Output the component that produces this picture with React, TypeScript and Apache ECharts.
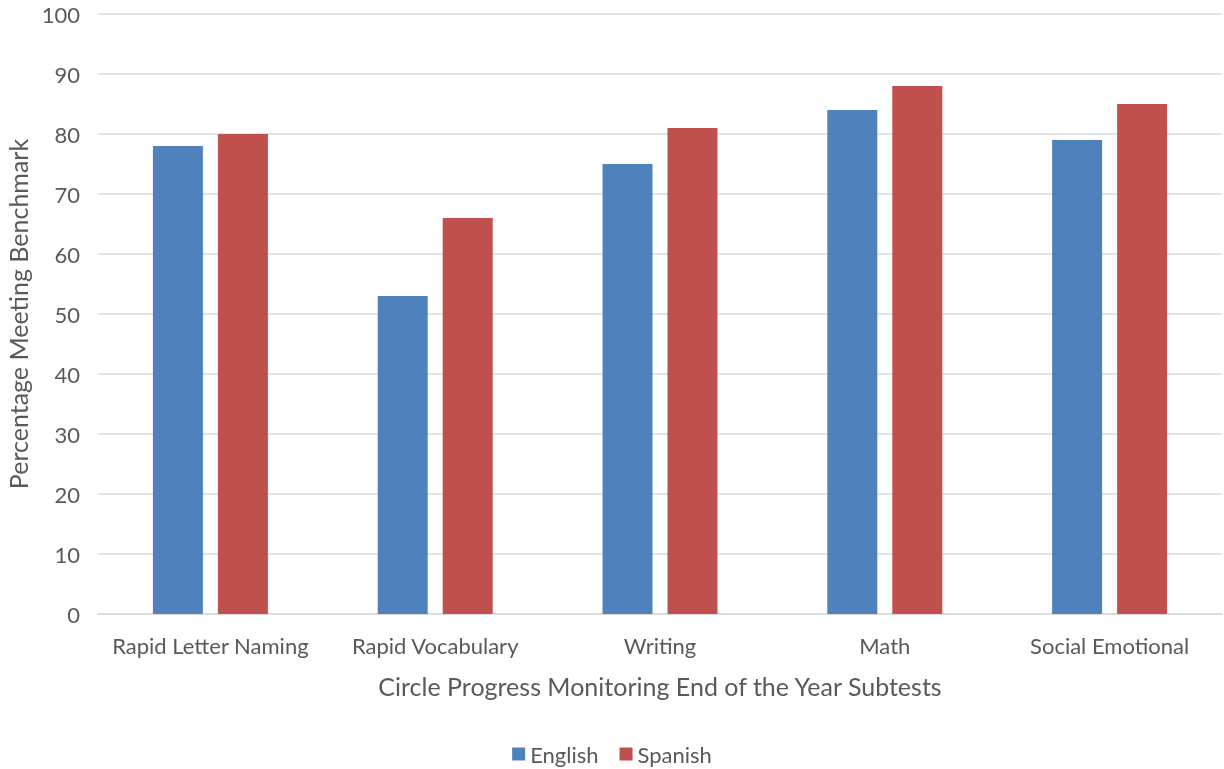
import React, { useEffect, useRef } from "react";
import * as echarts from "echarts";

const categories = ["Rapid Letter Naming", "Rapid Vocabulary", "Writing", "Math", "Social Emotional"];
const englishValues = [78, 53, 75, 84, 79];
const spanishValues = [80, 66, 81, 88, 85];
const seriesNames = ["English", "Spanish"];

export default function App() {
  const ref = useRef<HTMLDivElement>(null);
  useEffect(() => {
    if (!ref.current) return;
    const chart = echarts.init(ref.current, null, { renderer: "svg" });
    const font = "Lato, 'Open Sans', sans-serif";
    const textColor = "#595959";
    chart.setOption({
      animation: false,
      textStyle: { fontFamily: font, color: textColor },
      grid: { left: 98, right: 2, top: 14, bottom: 155, containLabel: false, outerBoundsMode: "none" },
      legend: {
        data: seriesNames,
        bottom: -1,
        left: "center",
        itemWidth: 13,
        itemHeight: 13,
        itemGap: 21,
        icon: "rect",
        textStyle: { fontSize: 22, color: textColor, fontFamily: font },
      },
      xAxis: {
        type: "category",
        data: categories,
        name: "Circle Progress Monitoring End of the Year Subtests",
        nameLocation: "middle",
        nameGap: 59,
        nameTextStyle: { fontSize: 25, color: textColor, fontFamily: font },
        axisLine: { lineStyle: { color: "#D9D9D9", width: 1.5 } },
        axisTick: { show: false },
        axisLabel: { fontSize: 22, color: textColor, margin: 20, fontFamily: font, interval: 0, hideOverlap: false },
      },
      yAxis: {
        type: "value",
        min: 0,
        max: 100,
        interval: 10,
        name: "Percentage Meeting Benchmark",
        nameLocation: "middle",
        nameGap: 67,
        nameTextStyle: { fontSize: 25, color: textColor, fontFamily: font },
        axisLine: { show: false },
        axisTick: { show: false },
        axisLabel: { fontSize: 22, color: textColor, margin: 18, fontFamily: font },
        splitLine: { lineStyle: { color: "#D9D9D9", width: 1.5 } },
      },
      series: [
        {
          name: seriesNames[0],
          type: "bar",
          data: englishValues,
          barWidth: 50,
          barGap: "30%",
          itemStyle: { color: "#4F81BD" },
        },
        {
          name: seriesNames[1],
          type: "bar",
          data: spanishValues,
          barWidth: 50,
          barGap: "30%",
          itemStyle: { color: "#C0504D" },
        },
      ],
    });
    return () => chart.dispose();
  }, []);
  return <div ref={ref} style={{ position: "fixed", left: 0, top: 0, width: 1224, height: 769 }} />;
}
